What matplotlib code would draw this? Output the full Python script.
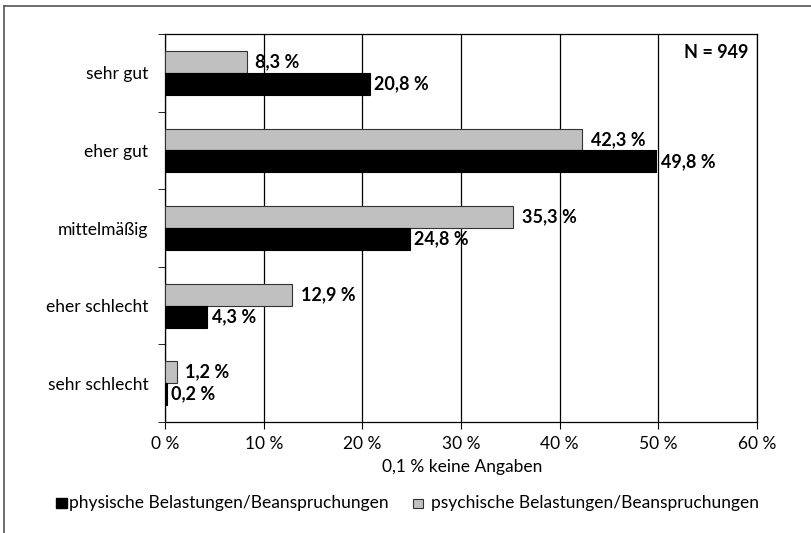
import matplotlib.pyplot as plt
import numpy as np

categories = ["sehr gut", "eher gut", "mittelmäßig", "eher schlecht", "sehr schlecht"]
physisch = [20.8, 49.8, 24.8, 4.3, 0.2]
psychisch = [8.3, 42.3, 35.3, 12.9, 1.2]
xticks = [0, 10, 20, 30, 40, 50, 60]
legend_labels = ["physische Belastungen/Beanspruchungen", "psychische Belastungen/Beanspruchungen"]

plt.rcParams["font.family"] = ["Lato", "DejaVu Sans"]
fs = 12.5

fig = plt.figure(figsize=(8.11, 5.33), dpi=100)
# outer frame (left and top visible)
fig.add_artist(plt.Line2D([0.005, 0.005], [0.0, 0.989], color="#555555", lw=1.2))
fig.add_artist(plt.Line2D([0.005, 1.0], [0.989, 0.989], color="#555555", lw=1.2))

ax = fig.add_axes([0.2035, 0.2083, 0.7299, 0.7277])
y = np.arange(len(categories))
h = 0.283
grey = ax.barh(y - h / 2, psychisch, height=h, color="#c0c0c0", edgecolor="#333333", lw=0.8, zorder=3)
black = ax.barh(y + h / 2, physisch, height=h, color="black", edgecolor="black", lw=0.8, zorder=3)

fmt = lambda v: f"{v:.1f}".replace(".", ",") + " %"
ax.bar_label(grey, labels=[fmt(v) for v in psychisch], padding=6, fontsize=13, fontweight="bold")
ax.bar_label(black, labels=[fmt(v) for v in physisch], padding=3, fontsize=13, fontweight="bold")

ax.set_xlim(0, 60)
ax.set_ylim(len(categories) - 0.5, -0.5)
ax.set_xticks(xticks)
ax.set_xticklabels([f"{t} %" for t in xticks], fontsize=fs)
ax.set_yticks(y)
ax.set_yticklabels(categories, fontsize=fs)
ax.tick_params(axis="y", length=0, pad=12)
ax.set_yticks(np.arange(-0.5, len(categories), 1), minor=True)
ax.tick_params(axis="y", which="minor", length=5, direction="out")
ax.tick_params(axis="x", length=5, direction="out", pad=5)
ax.xaxis.grid(True, color="black", lw=0.9)
ax.set_axisbelow(True)
for s in ax.spines.values():
    s.set_color("black")
    s.set_linewidth(0.9)

ax.text(0.985, 0.975, "N = 949", transform=ax.transAxes, ha="right", va="top",
        fontsize=13, fontweight="bold")
fig.text(0.57, 0.124, "0,1 % keine Angaben", ha="center", va="center", fontsize=fs)

# legend
fig.add_artist(plt.Rectangle((0.069, 0.046), 0.0135, 0.02, color="black"))
fig.text(0.085, 0.056, legend_labels[0], ha="left", va="center", fontsize=fs)
fig.add_artist(plt.Rectangle((0.509, 0.046), 0.012, 0.018, facecolor="#c0c0c0", edgecolor="#333333", lw=0.8))
fig.text(0.532, 0.056, legend_labels[1], ha="left", va="center", fontsize=fs)

fig.savefig("out.png", dpi=100)
